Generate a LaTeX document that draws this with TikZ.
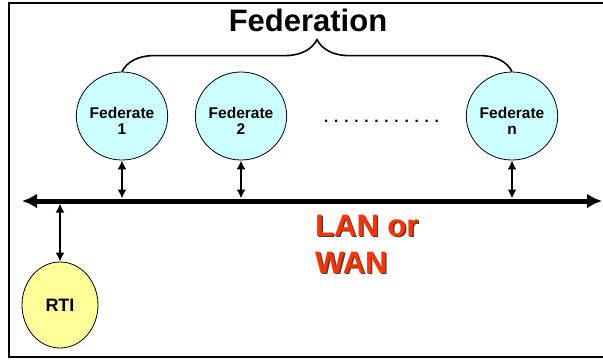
\documentclass[tikz,border=0pt]{standalone}
\usepackage{fontspec}
\setmainfont{Liberation Sans}
\usetikzlibrary{shapes.geometric, arrows.meta, decorations.pathreplacing}

\definecolor{fedcyan}{HTML}{CCFFFF}
\definecolor{rtiyellow}{HTML}{FFFF99}
\definecolor{lanred}{HTML}{FF3300}

\begin{document}
\begin{tikzpicture}[
    x=1pt, y=-1pt,
    federate/.style={draw=black, line width=0.8pt, ellipse, fill=fedcyan, minimum width=77pt, minimum height=88pt, inner sep=0pt, align=center, text height=37pt, text depth=0pt, font=\fontsize{15.5}{16.5}\selectfont\bfseries},
    rti/.style={draw=black, line width=0.8pt, ellipse, fill=rtiyellow, minimum width=76pt, minimum height=86pt, inner sep=0pt, font=\fontsize{18}{20}\selectfont\bfseries},
    bus/.style={line width=5pt, {Latex[length=15pt,width=15pt]}-{Latex[length=15pt,width=15pt]}},
    link/.style={line width=1.8pt, {Latex[length=9pt,width=9pt]}-{Latex[length=9pt,width=9pt]}},
    title/.style={font=\fontsize{31}{34}\selectfont\bfseries},
    netlabel/.style={font=\fontsize{31}{37}\selectfont\bfseries, text=lanred, align=left, inner sep=0pt}
  ]
    \useasboundingbox (0,0) rectangle (603,360);
    \draw[line width=1.5pt] (603,3) -| (9,357) -- (603,357);

    % Nodes
    \node[title, anchor=base] (fedtitle) at (308,31) {Federation};
    \node[federate] (fed1) at (122,116) {Federate\\1};
    \node[federate] (fed2) at (241,116) {Federate\\2};
    \node[federate] (fedn) at (512,116) {Federate\\n};
    \node[anchor=base west, inner sep=0pt, font=\fontsize{15.5}{16}\selectfont\bfseries\addfontfeature{LetterSpace=37}] (dots) at (324,122) {............};
    \node[rti] (rti) at (60,305) {RTI};

    \node[netlabel, text=black!75, anchor=base west] (netshadow) at (316.3,274.3) {LAN or\\WAN};
    \node[netlabel, anchor=base west] (net) at (315,273) {LAN or\\WAN};

    % Network
    \coordinate (busw) at (22,201);
    \coordinate (buse) at (602,201);
    \draw[bus] (busw) -- (buse);

    % Connections
    \draw[link, shorten >=2.5pt] (fed1.south) -- (fed1.south |- busw);
    \draw[link, shorten >=2.5pt] (fed2.south) -- (fed2.south |- busw);
    \draw[link, shorten >=2.5pt] (fedn.south) -- (fedn.south |- busw);
    \draw[link, shorten >=2.5pt] (rti.north) -- (rti.north |- busw);

    % Federation brace
    \draw[decorate, decoration={brace, amplitude=32pt}, line width=1.6pt] (fed1.north) -- (fedn.north);

  \end{tikzpicture}
\end{document}
